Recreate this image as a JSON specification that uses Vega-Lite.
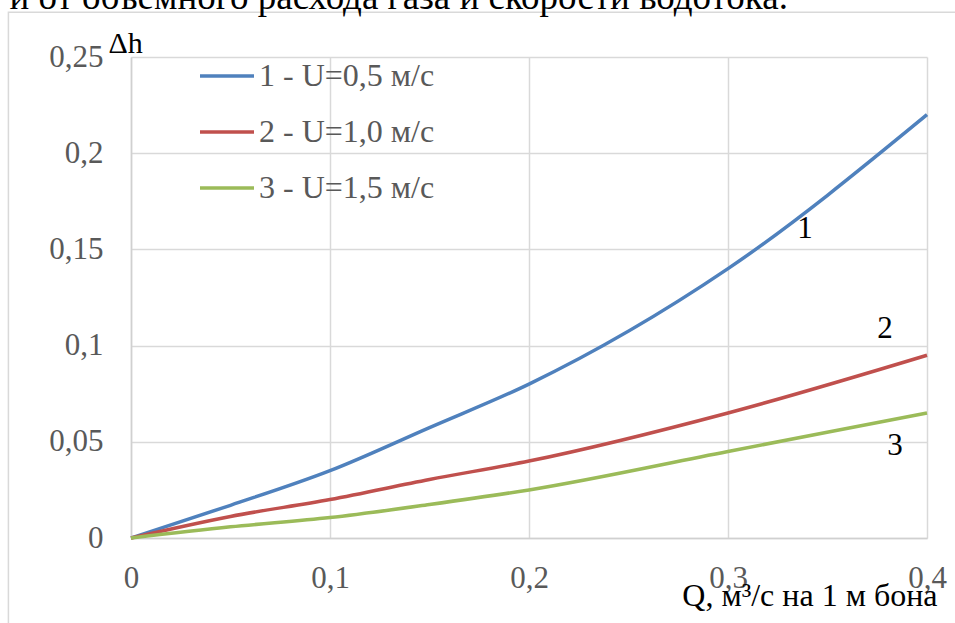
{
  "$schema": "https://vega.github.io/schema/vega-lite/v6.json",
  "width": 796,
  "height": 481,
  "autosize": {"type": "none"},
  "padding": {"left": 131, "top": 57, "right": 28, "bottom": 85},
  "background": "white",
  "config": {
    "view": {"stroke": null},
    "font": "Liberation Serif",
    "axis": {
      "grid": true,
      "gridColor": "#d9d9d9",
      "gridWidth": 1.5,
      "domainColor": "#d0d0d0",
      "domainWidth": 1.5,
      "ticks": false,
      "labelFlush": false,
      "labelFont": "Liberation Serif",
      "labelFontSize": 31,
      "labelColor": "#595959",
      "titleFont": "Liberation Serif",
      "titleFontSize": 30,
      "titleFontWeight": "normal",
      "titleColor": "#000000"
    }
  },
  "datasets": {
    "curves": [
      {"Q": 0, "dh": 0, "series": "1 - U=0,5 м/с"},
      {"Q": 0.05, "dh": 0.017, "series": "1 - U=0,5 м/с"},
      {"Q": 0.1, "dh": 0.035, "series": "1 - U=0,5 м/с"},
      {"Q": 0.15, "dh": 0.0574, "series": "1 - U=0,5 м/с"},
      {"Q": 0.2, "dh": 0.08, "series": "1 - U=0,5 м/с"},
      {"Q": 0.3, "dh": 0.14, "series": "1 - U=0,5 м/с"},
      {"Q": 0.4, "dh": 0.22, "series": "1 - U=0,5 м/с"},
      {"Q": 0, "dh": 0, "series": "2 - U=1,0 м/с"},
      {"Q": 0.05, "dh": 0.0112, "series": "2 - U=1,0 м/с"},
      {"Q": 0.1, "dh": 0.02, "series": "2 - U=1,0 м/с"},
      {"Q": 0.15, "dh": 0.0304, "series": "2 - U=1,0 м/с"},
      {"Q": 0.2, "dh": 0.04, "series": "2 - U=1,0 м/с"},
      {"Q": 0.3, "dh": 0.065, "series": "2 - U=1,0 м/с"},
      {"Q": 0.4, "dh": 0.095, "series": "2 - U=1,0 м/с"},
      {"Q": 0, "dh": 0, "series": "3 - U=1,5 м/с"},
      {"Q": 0.05, "dh": 0.0058, "series": "3 - U=1,5 м/с"},
      {"Q": 0.1, "dh": 0.0106, "series": "3 - U=1,5 м/с"},
      {"Q": 0.15, "dh": 0.0174, "series": "3 - U=1,5 м/с"},
      {"Q": 0.2, "dh": 0.025, "series": "3 - U=1,5 м/с"},
      {"Q": 0.3, "dh": 0.045, "series": "3 - U=1,5 м/с"},
      {"Q": 0.4, "dh": 0.065, "series": "3 - U=1,5 м/с"}
    ],
    "curveNumbers": [
      {"Q": 0.3387, "dh": 0.1559, "label": "1"},
      {"Q": 0.3789, "dh": 0.104, "label": "2"},
      {"Q": 0.3839, "dh": 0.0431, "label": "3"}
    ],
    "caption": [
      {"Q": 0.3301, "dh": 0.2749, "text": "и от объемного расхода газа и скорости водотока."}
    ]
  },
  "layer": [
    {
      "data": {"values": [{}]},
      "mark": {"type": "rect", "fill": null, "stroke": "#d9d9d9", "strokeWidth": 1.5, "clip": false},
      "encoding": {
        "x": {"datum": -0.0616, "type": "quantitative"},
        "x2": {"datum": 0.7},
        "y": {"datum": 0.2732, "type": "quantitative"},
        "y2": {"datum": -0.2}
      }
    },
    {
      "data": {"name": "curves"},
      "mark": {"type": "line", "interpolate": "monotone", "strokeWidth": 3.5, "clip": false},
      "encoding": {
        "x": {
          "field": "Q",
          "type": "quantitative",
          "scale": {"domain": [0, 0.4], "nice": false},
          "axis": {
            "values": [0, 0.1, 0.2, 0.3, 0.4],
            "labelExpr": "replace(format(datum.value, '~g'), '.', ',')",
            "labelBaseline": "alphabetic",
            "labelPadding": 49,
            "title": "Q, м³/с на 1 м бона",
            "titleFontSize": 32,
            "titleX": 806,
            "titleY": 67,
            "titleAlign": "right",
            "titleBaseline": "alphabetic"
          }
        },
        "y": {
          "field": "dh",
          "type": "quantitative",
          "scale": {"domain": [0, 0.25], "nice": false},
          "axis": {
            "values": [0, 0.05, 0.1, 0.15, 0.2, 0.25],
            "labelExpr": "replace(format(datum.value, '~g'), '.', ',')",
            "labelPadding": 28,
            "title": "Δh",
            "titleAngle": 0,
            "titleX": -23,
            "titleY": -5,
            "titleAlign": "left",
            "titleBaseline": "alphabetic"
          }
        },
        "color": {
          "field": "series",
          "type": "nominal",
          "scale": {
            "domain": ["1 - U=0,5 м/с", "2 - U=1,0 м/с", "3 - U=1,5 м/с"],
            "range": ["#4F81BD", "#C0504D", "#9BBB59"]
          },
          "legend": {
            "title": null,
            "orient": "none",
            "legendX": 67,
            "legendY": -10,
            "padding": 0,
            "symbolType": "stroke",
            "symbolSize": 2916,
            "symbolStrokeWidth": 3.5,
            "labelFont": "Liberation Serif",
            "labelFontSize": 32,
            "labelColor": "#595959",
            "labelOffset": 3,
            "labelLimit": 400,
            "rowPadding": 11
          }
        }
      }
    },
    {
      "data": {"name": "curveNumbers"},
      "mark": {"type": "text", "font": "Liberation Serif", "fontSize": 31, "color": "#000000", "align": "center", "baseline": "alphabetic"},
      "encoding": {
        "x": {"field": "Q", "type": "quantitative"},
        "y": {"field": "dh", "type": "quantitative"},
        "text": {"field": "label"}
      }
    },
    {
      "data": {"name": "caption"},
      "mark": {"type": "text", "font": "Liberation Serif", "fontSize": 37, "color": "#000000", "align": "right", "baseline": "alphabetic", "clip": false},
      "encoding": {
        "x": {"field": "Q", "type": "quantitative"},
        "y": {"field": "dh", "type": "quantitative"},
        "text": {"field": "text"}
      }
    }
  ]
}
